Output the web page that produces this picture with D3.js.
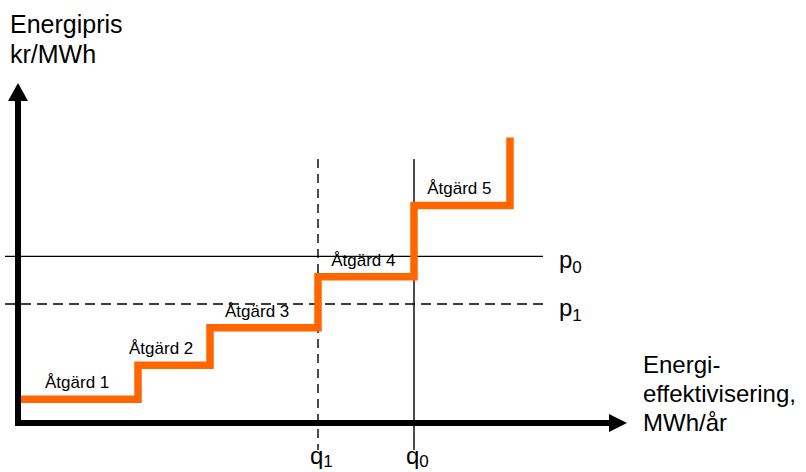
<!DOCTYPE html>
<html>
<head>
<meta charset="utf-8">
<script src="https://d3js.org/d3.v7.min.js"></script>
<style>
    body { margin: 0; background: #fff; }
    svg text { font-family: "Liberation Sans", Arial, sans-serif; fill: #000; }
    .title { font-size: 24px; }
    .ytitle { font-size: 25px; }
    .step-label { font-size: 17px; }
</style>
</head>
<body>
<div id="chart"></div>
<script>
    // data -------------------------------------------------------------
    var stepLabels = ["Åtgärd 1", "Åtgärd 2", "Åtgärd 3", "Åtgärd 4", "Åtgärd 5"];
    var stepEdges  = [0, 20, 32, 50, 66, 82];   // MWh/år (relativ)
    var stepPrices = [7, 17, 28, 43, 64];       // kr/MWh (relativ)
    var curveTop   = 84;
    var labelAt    = [4.5, 18.5, 34.5, 52.2, 68.2];
    var priceLines = [{name: "p", sub: "0", value: 49, dashed: false},
                      {name: "p", sub: "1", value: 35, dashed: true}];
    var qtyLines   = [{name: "q", sub: "1", value: 50, dashed: true},
                      {name: "q", sub: "0", value: 66, dashed: false}];

    var width = 806, height = 472;

    var svg = d3.select("#chart").append("svg")
        .attr("width", width)
        .attr("height", height);

    var x = d3.scaleLinear().domain([0, 100]).range([18, 618]);
    var y = d3.scaleLinear().domain([0, 100]).range([423, 83]);

    // hjälplinjer ------------------------------------------------------
    svg.selectAll("line.pline")
        .data(priceLines)
        .enter().append("line")
        .attr("class", "pline")
        .attr("x1", 5).attr("x2", 543)
        .attr("y1", function(d) { return y(d.value); })
        .attr("y2", function(d) { return y(d.value); })
        .attr("stroke", "#000")
        .attr("stroke-width", 1.3)
        .attr("stroke-dasharray", function(d) { return d.dashed ? "10,6" : null; });

    svg.selectAll("line.qline")
        .data(qtyLines)
        .enter().append("line")
        .attr("class", "qline")
        .attr("x1", function(d) { return x(d.value); })
        .attr("x2", function(d) { return x(d.value); })
        .attr("y1", 159).attr("y2", 450)
        .attr("stroke", "#000")
        .attr("stroke-width", 1.4)
        .attr("stroke-dasharray", function(d) { return d.dashed ? "9,6" : null; });

    var pl = svg.selectAll("text.plabel")
        .data(priceLines)
        .enter().append("text")
        .attr("class", "title plabel")
        .attr("x", 559)
        .attr("y", function(d) { return y(d.value) + 12; });
    pl.append("tspan").text(function(d) { return d.name; });
    pl.append("tspan").attr("dy", 5).style("font-size", "17px").text(function(d) { return d.sub; });

    var ql = svg.selectAll("text.qlabel")
        .data(qtyLines)
        .enter().append("text")
        .attr("class", "title qlabel")
        .attr("x", function(d) { return x(d.value) - 8; })
        .attr("y", 464);
    ql.append("tspan").text(function(d) { return d.name; });
    ql.append("tspan").attr("dy", 3).style("font-size", "17px").text(function(d) { return d.sub; });

    // trappkurvan ------------------------------------------------------
    var pts = [];
    stepPrices.forEach(function(p, i) {
        pts.push([stepEdges[i], p]);
        pts.push([stepEdges[i + 1], p]);
    });
    pts.push([stepEdges[stepEdges.length - 1], curveTop]);

    var line = d3.line()
        .x(function(d) { return x(d[0]); })
        .y(function(d) { return y(d[1]); });

    svg.append("path")
        .datum(pts)
        .attr("d", line)
        .attr("fill", "none")
        .attr("stroke", "#ff6600")
        .attr("stroke-width", 7.5)
        .attr("stroke-linejoin", "miter");

    svg.selectAll("text.step-label")
        .data(stepLabels)
        .enter().append("text")
        .attr("class", "step-label")
        .attr("x", function(d, i) { return x(labelAt[i]); })
        .attr("y", function(d, i) { return y(stepPrices[i]) - 11; })
        .text(function(d) { return d; });

    // axlar ------------------------------------------------------------
    svg.append("line")
        .attr("x1", 18).attr("x2", 18)
        .attr("y1", 426).attr("y2", 98)
        .attr("stroke", "#000").attr("stroke-width", 6);
    svg.append("path")
        .attr("d", "M8,101 L18,83 L28,101 Z")
        .attr("fill", "#000");

    svg.append("line")
        .attr("x1", 15).attr("x2", 612)
        .attr("y1", 423).attr("y2", 423)
        .attr("stroke", "#000").attr("stroke-width", 6);
    svg.append("path")
        .attr("d", "M609,414 L627,423 L609,432 Z")
        .attr("fill", "#000");

    // axeltitlar -------------------------------------------------------
    var yt = svg.append("text").attr("class", "ytitle").attr("x", 10).attr("y", 33);
    yt.append("tspan").attr("x", 10).text("Energipris");
    yt.append("tspan").attr("x", 10).attr("dy", 30).text("kr/MWh");

    var xt = svg.append("text").attr("class", "title").attr("x", 643).attr("y", 373);
    ["Energi-", "effektivisering,", "MWh/år"].forEach(function(s, i) {
        xt.append("tspan").attr("x", 643).attr("dy", i ? 29 : 0).text(s);
    });
</script>
</body>
</html>
